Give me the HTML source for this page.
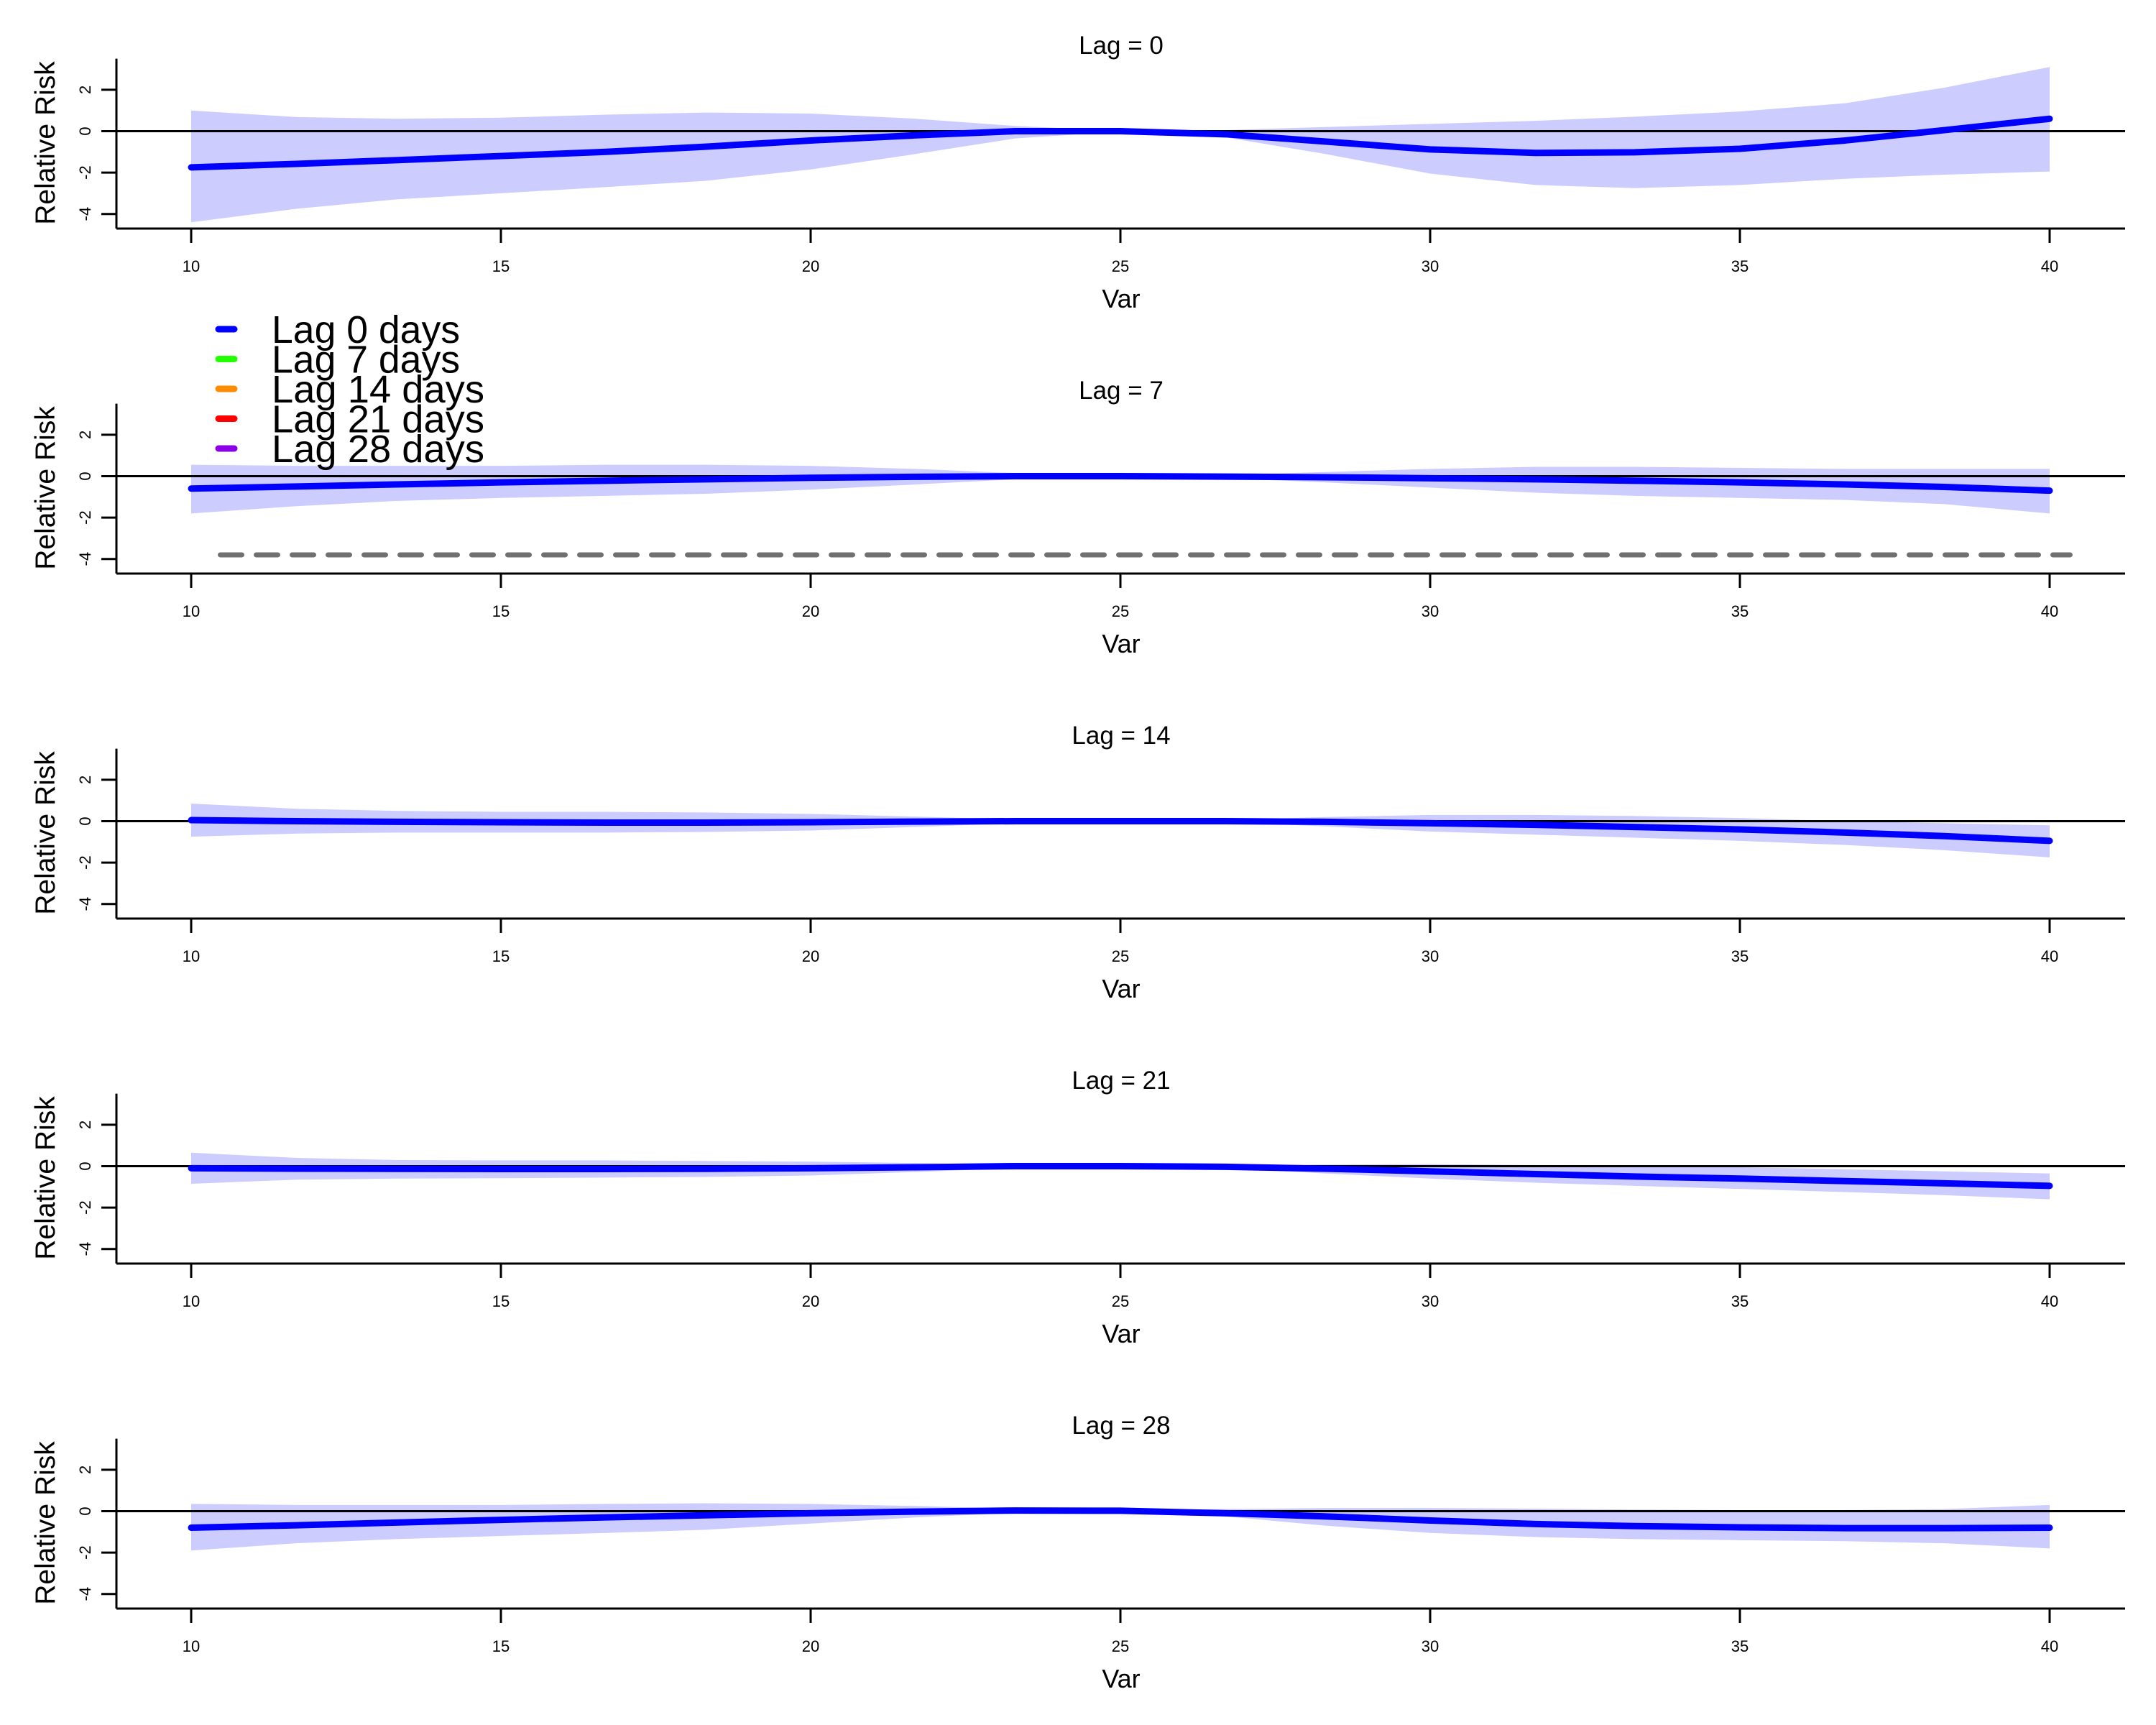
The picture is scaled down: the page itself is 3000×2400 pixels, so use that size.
<!DOCTYPE html>
<html><head><meta charset="utf-8"><style>
html,body{margin:0;padding:0;background:#fff}
svg{display:block}
text{font-family:"Liberation Sans",sans-serif;fill:#000}
</style></head><body>
<svg id="chart" width="3000" height="2400" viewBox="0 0 3000 2400" xmlns="http://www.w3.org/2000/svg"></svg>
<script>
const xs = [10,11.7,13.3,15,16.7,18.3,20,21.7,23.3,25,26.7,28.3,30,31.7,33.3,35,36.7,38.3,40];
const lagTitles = ["Lag = 0","Lag = 7","Lag = 14","Lag = 21","Lag = 28"];
const fit0 = [-1.75,-1.58,-1.4,-1.2,-1.0,-0.75,-0.45,-0.2,0.0,0,-0.15,-0.5,-0.88,-1.05,-1.02,-0.85,-0.45,0.05,0.6];
const up0 = [1.0,0.68,0.6,0.65,0.8,0.9,0.85,0.6,0.25,0.02,0.05,0.2,0.35,0.5,0.7,0.95,1.35,2.1,3.1];
const lo0 = [-4.4,-3.75,-3.3,-3.0,-2.7,-2.4,-1.85,-1.1,-0.35,-0.02,-0.3,-1.1,-2.05,-2.6,-2.75,-2.6,-2.3,-2.1,-1.95];
const fit7 = [-0.6,-0.5,-0.4,-0.3,-0.22,-0.15,-0.08,-0.03,0,0,-0.02,-0.05,-0.1,-0.15,-0.22,-0.3,-0.4,-0.52,-0.7];
const up7 = [0.55,0.5,0.5,0.5,0.55,0.55,0.5,0.35,0.15,0.02,0.05,0.2,0.35,0.45,0.45,0.4,0.35,0.35,0.35];
const lo7 = [-1.8,-1.45,-1.2,-1.05,-0.95,-0.85,-0.65,-0.4,-0.15,-0.02,-0.1,-0.3,-0.55,-0.8,-0.95,-1.05,-1.15,-1.35,-1.8];
const fit14 = [0.05,0.0,-0.03,-0.05,-0.07,-0.07,-0.05,-0.02,0,0,0,-0.03,-0.1,-0.18,-0.28,-0.4,-0.55,-0.72,-0.95];
const up14 = [0.85,0.6,0.5,0.45,0.45,0.42,0.35,0.22,0.08,0.01,0.05,0.2,0.3,0.3,0.25,0.15,0.0,-0.1,-0.2];
const lo14 = [-0.75,-0.6,-0.55,-0.55,-0.55,-0.52,-0.45,-0.28,-0.1,-0.01,-0.05,-0.25,-0.5,-0.65,-0.8,-0.95,-1.15,-1.4,-1.75];
const fit21 = [-0.1,-0.12,-0.13,-0.14,-0.14,-0.13,-0.1,-0.05,0,0,-0.03,-0.12,-0.25,-0.38,-0.5,-0.6,-0.72,-0.83,-0.95];
const up21 = [0.65,0.4,0.3,0.28,0.28,0.25,0.22,0.15,0.06,0.01,0.03,0.08,0.1,0.05,0.0,-0.05,-0.15,-0.25,-0.35];
const lo21 = [-0.85,-0.65,-0.6,-0.58,-0.55,-0.52,-0.45,-0.28,-0.1,-0.01,-0.1,-0.35,-0.6,-0.8,-0.95,-1.1,-1.25,-1.4,-1.6];
const fit28 = [-0.8,-0.68,-0.55,-0.42,-0.3,-0.2,-0.1,-0.02,0.03,0.02,-0.1,-0.25,-0.45,-0.62,-0.72,-0.78,-0.82,-0.82,-0.8];
const up28 = [0.35,0.3,0.3,0.3,0.35,0.38,0.35,0.25,0.12,0.05,0.1,0.15,0.15,0.12,0.08,0.05,0.05,0.1,0.3];
const lo28 = [-1.9,-1.55,-1.35,-1.2,-1.05,-0.9,-0.6,-0.3,-0.08,0.0,-0.25,-0.7,-1.05,-1.25,-1.35,-1.4,-1.45,-1.55,-1.8];
const xTicks = [10,15,20,25,30,35,40];
const yTicks = [2,0,-2,-4];
const refLineY = -3.8;
const refLineX = [10.47,40.33];
const legendLabels = ["Lag 0 days","Lag 7 days","Lag 14 days","Lag 21 days","Lag 28 days"];
const legendColors = ["#0000ff","#22ff00","#ff8c00","#ff0000","#8b00e6"];

const fits=[fit0,fit7,fit14,fit21,fit28], ups=[up0,up7,up14,up21,up28], los=[lo0,lo7,lo14,lo21,lo28];
const svg=document.getElementById('chart');
const NS='http://www.w3.org/2000/svg';
function mk(tag,attrs,parent){const e=document.createElementNS(NS,tag);for(const k in attrs)e.setAttribute(k,attrs[k]);(parent||svg).appendChild(e);return e;}
const sx=x=>266+(x-10)*86.2;
const AXL=162, AXR=2957;
for(let p=0;p<5;p++){
  const off=p*480;
  const sy=y=>182.5+off-y*28.8;
  const g=mk('g',{});
  
  
  const top=sy(3.504), bot=sy(-4.704);
  let d='M'+xs.map((x,i)=>sx(x)+','+sy(ups[p][i])).join(' L')+' L'+xs.slice().reverse().map((x,i)=>sx(x)+','+sy(los[p][xs.length-1-i])).join(' L')+' Z';
  const band=mk('path',{d:d,fill:'#ccccff',stroke:'none'},g);
  
  
  const zl=mk('line',{x1:AXL,x2:AXR,y1:sy(0),y2:sy(0),stroke:'#000','stroke-width':3},g);
  
  
  const ln=mk('polyline',{points:xs.map((x,i)=>sx(x)+','+sy(fits[p][i])).join(' '),fill:'none',stroke:'#0000ff','stroke-width':9,'stroke-linecap':'round','stroke-linejoin':'round'},g);
  
  
  const ya=mk('line',{x1:AXL,x2:AXL,y1:top,y2:bot,stroke:'#000','stroke-width':3},g);
  
  
  const xa=mk('line',{x1:AXL,x2:AXR,y1:bot,y2:bot,stroke:'#000','stroke-width':3},g);
  
  
  xTicks.forEach(t=>{
    const tk=mk('line',{x1:sx(t),x2:sx(t),y1:bot,y2:bot+20,stroke:'#000','stroke-width':3},g);
    
    
    const tl=mk('text',{x:sx(t),y:bot+60,'text-anchor':'middle','font-size':22},g);
    tl.textContent=t;
    
    
  });
  yTicks.forEach(t=>{
    const tk=mk('line',{x1:AXL-21,x2:AXL,y1:sy(t),y2:sy(t),stroke:'#000','stroke-width':3},g);
    
    
    const tl=mk('text',{x:0,y:0,'text-anchor':'middle','font-size':22,transform:'translate(126,'+sy(t)+') rotate(-90)'},g);
    tl.textContent=t;
    
    
  });
  const tt=mk('text',{x:1560,y:75+off,'text-anchor':'middle','font-size':35},g);
  tt.textContent=lagTitles[p];
  
  
  const xt=mk('text',{x:1560,y:428+off,'text-anchor':'middle','font-size':36},g);
  xt.textContent='Var';
  
  
  const yt=mk('text',{x:0,y:0,'text-anchor':'middle','font-size':39,transform:'translate(76,'+(199+off)+') rotate(-90)'},g);
  yt.textContent='Relative Risk';
  
  
  if(p===1){
    const rl=mk('line',{x1:sx(refLineX[0]),x2:sx(refLineX[1]),y1:sy(refLineY),y2:sy(refLineY),stroke:'#707070','stroke-width':7,'stroke-dasharray':'30 20','stroke-linecap':'round'},g);
    
    
  }
}
const lg=mk('g',{});


legendLabels.forEach((lab,i)=>{
  const cy=458+i*41.5;
  const sw=mk('line',{x1:304,x2:326,y1:cy,y2:cy,stroke:legendColors[i],'stroke-width':9,'stroke-linecap':'round'},lg);
  
  
  const t=mk('text',{x:378,y:cy+19,'font-size':54,textLength:lab.length>10?296:262,lengthAdjust:'spacingAndGlyphs'},lg);
  t.textContent=lab;
  
  
});
</script>
</body></html>
